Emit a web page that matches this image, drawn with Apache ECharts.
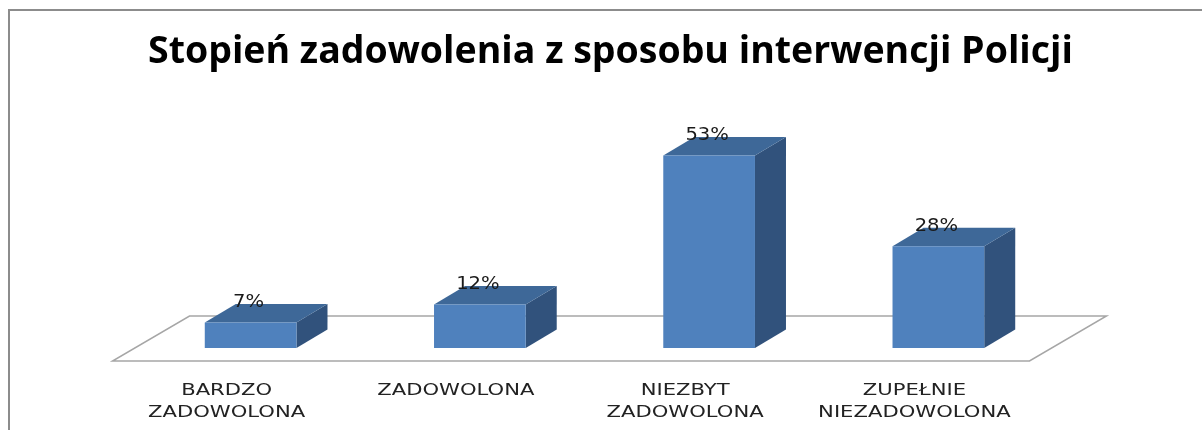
<!DOCTYPE html>
<html>
<head>
<meta charset="utf-8">
<script src="https://cdn.jsdelivr.net/npm/echarts@6/dist/echarts.min.js"></script>
<style>
  html, body { margin: 0; padding: 0; background: #fff; }
  #main { width: 1202px; height: 430px; }
</style>
</head>
<body>
<div id="main"></div>
<script>
// dane wykresu
var categories = ['BARDZO\nZADOWOLONA', 'ZADOWOLONA', 'NIEZBYT\nZADOWOLONA', 'ZUPEŁNIE\nNIEZADOWOLONA'];
var values = [7, 12, 53, 28];
var valueLabels = ['7%', '12%', '53%', '28%'];

var chartDom = document.getElementById('main');
var myChart = echarts.init(chartDom);

var DX = 31, DY = -18.5;   // glebokosc slupka 3D
var FRONT = '#4f81bd', TOP = '#3e6898', SIDE = '#31527c';

function renderFloor(params, api) {
  var band = api.size([1, 0])[0];
  var p0 = api.coord([0, 0]);
  var p3 = api.coord([categories.length - 1, 0]);
  var xl = p0[0] - band / 2, xr = p3[0] + band / 2, y = p0[1];
  return {
    type: 'polygon',
    shape: { points: [[xl - 23.5, y + 13], [xr - 23.5, y + 13], [xr + 53.5, y - 32], [xl + 53.5, y - 32]] },
    style: { fill: '#fff', stroke: '#a6a6a6', lineWidth: 1.5 }
  };
}

function renderBar(params, api) {
  var idx = api.value(0);
  var top = api.coord([idx, api.value(1)]);
  var base = api.coord([idx, 0]);
  var band = api.size([1, 0])[0];
  var w = band * 0.4;
  var x0 = top[0] - w / 2, x1 = top[0] + w / 2;
  var yt = top[1], yb = base[1];
  var lines = categories[idx].split('\n');
  var children = [
    { type: 'polygon', shape: { points: [[x1, yb], [x1 + DX, yb + DY], [x1 + DX, yt + DY], [x1, yt]] }, style: { fill: SIDE } },
    { type: 'polygon', shape: { points: [[x0, yt], [x1, yt], [x1 + DX, yt + DY], [x0 + DX, yt + DY]] }, style: { fill: TOP } },
    { type: 'rect', shape: { x: x0, y: yt, width: w, height: yb - yt }, style: { fill: FRONT } },
    {
      type: 'text', x: top[0] - 2, y: yt - 20, scaleX: 1.15,
      style: { text: valueLabels[idx], fill: '#1a1a1a', font: '17px "DejaVu Sans"', align: 'center', verticalAlign: 'middle' }
    }
  ];
  lines.forEach(function (t, i) {
    children.push({
      type: 'text', x: top[0] - 24, y: yb + 34 + i * 22, scaleX: 1.28,
      style: { text: t, fill: '#222', font: '16.5px "DejaVu Sans"', align: 'center', verticalAlign: 'top' }
    });
  });
  return { type: 'group', children: children };
}

var option = {
  animation: false,
  backgroundColor: '#fff',
  title: {
    text: 'Stopień zadowolenia z sposobu interwencji Policji',
    left: 143,
    top: 28,
    textStyle: { fontFamily: 'Open Sans', fontWeight: 'bold', fontSize: 37.5, color: '#000' }
  },
  graphic: [{
    type: 'polyline',
    shape: { points: [[9, 430], [9, 10], [1202, 10]] },
    style: { stroke: '#8c8c8c', lineWidth: 2, fill: null }
  }],
  grid: { left: 136, right: 149, top: 130, bottom: 82 },
  xAxis: {
    type: 'category',
    data: categories,
    show: false
  },
  yAxis: {
    type: 'value',
    min: 0,
    max: 60,
    show: false
  },
  series: [
    {
      type: 'custom',
      renderItem: renderFloor,
      data: [[0, 0]],
      z: 1,
      silent: true
    },
    {
      type: 'custom',
      renderItem: renderBar,
      data: values.map(function (v, i) { return [i, v]; }),
      encode: { x: 0, y: 1 },
      z: 2
    }
  ]
};
myChart.setOption(option);
</script>
</body>
</html>
